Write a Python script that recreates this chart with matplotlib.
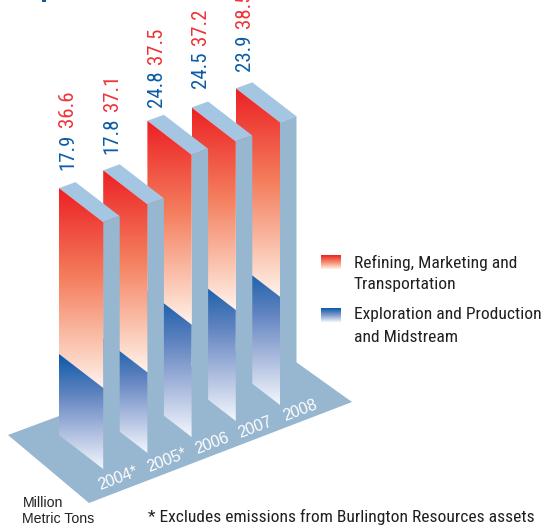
import numpy as np
import matplotlib
matplotlib.use('Agg')
import matplotlib.pyplot as plt
from matplotlib.colors import LinearSegmentedColormap
from matplotlib.patches import Polygon, Rectangle

plt.rcParams['font.family'] = ['Roboto Condensed', 'Archivo Narrow', 'Liberation Sans', 'DejaVu Sans']

years = ['2004*', '2005*', '2006', '2007', '2008']
exploration = [17.9, 17.8, 24.8, 24.5, 23.9]
refining = [36.6, 37.1, 37.5, 37.2, 38.5]

# drawing units are pixels, y pointing down
scale = 4.53
bar_w = 44.2
skew = 34.0
depth_x = 16.5
depth_y = 6.0
left0 = 59.0
base0 = 469.0
base_step = 16.0
label_gap = [18, 16, 14, 19, 17]
year_pos = [(118, 478), (167, 460), (212, 443), (255, 427), (300, 410)]

TOP = '#a5c6e2'
SIDE = '#97b6cf'
INK = '#231f20'
RED = '#ee3338'
BLUE = '#0b5ca8'

red_cmap = LinearSegmentedColormap.from_list(
    'red', [(0, '#ec2024'), (0.45, '#f47f5e'), (0.85, '#fcd3c2'), (1, '#fff3ed')])
blue_cmap = LinearSegmentedColormap.from_list(
    'blue', [(0, '#0a58a6'), (0.35, '#5f83c0'), (0.65, '#a6b7dc'), (1, '#f3f7fd')])

fig = plt.figure(figsize=(5.48, 5.25), dpi=100)
ax = fig.add_axes([0, 0, 1, 1])
ax.set_xlim(0, 548)
ax.set_ylim(525, 0)
ax.axis('off')

ramp = np.linspace(0, 1, 256).reshape(-1, 1)


def gradient_poly(pts, cmap, zorder):
    pts = np.array(pts)
    ymin, ymax = pts[:, 1].min(), pts[:, 1].max()
    xmin, xmax = pts[:, 0].min(), pts[:, 0].max()
    im = ax.imshow(ramp, cmap=cmap, extent=(xmin, xmax, ymax, ymin), aspect='auto',
                   vmin=0, vmax=1, zorder=zorder, origin='upper')
    patch = Polygon(pts, closed=True, transform=ax.transData, fc='none', ec='none')
    ax.add_patch(patch)
    im.set_clip_path(patch)


# floor
ax.add_patch(Polygon([(8, 435), (89, 503), (352, 402), (296, 362), (296, 328)],
                     closed=True, fc=SIDE, ec='none', zorder=1))

# back bar first so the nearer ones overlap it
for i in reversed(range(len(years))):
    z = 10 + (len(years) - i) * 3
    xl = left0 + i * bar_w
    xr = xl + bar_w
    br = base0 - i * base_step
    bl = br - skew
    split = exploration[i] * scale
    h = (exploration[i] + refining[i]) * scale

    ax.add_patch(Polygon([(xl, bl - h), (xr, br - h), (xr + depth_x, br - h - depth_y),
                          (xl + depth_x, bl - h - depth_y)],
                         closed=True, fc=TOP, ec='none', zorder=z))
    ax.add_patch(Polygon([(xr, br - h), (xr + depth_x, br - h - depth_y),
                          (xr + depth_x, br - depth_y), (xr, br)],
                         closed=True, fc=SIDE, ec='none', zorder=z))
    gradient_poly([(xl, bl - h), (xr, br - h), (xr, br - split), (xl, bl - split)], red_cmap, z + 1)
    gradient_poly([(xl, bl - split), (xr, br - split), (xr, br), (xl, bl)], blue_cmap, z + 1)

    cx = xl + 9
    top_y = bl - h
    ax.text(cx, top_y - label_gap[i], f'{exploration[i]:.1f}', color=BLUE, fontsize=15,
            rotation=90, ha='center', va='bottom', zorder=60)
    ax.text(cx, top_y - label_gap[i] - 43, f'{refining[i]:.1f}', color=RED, fontsize=15,
            rotation=90, ha='center', va='bottom', zorder=60)
    ax.text(year_pos[i][0], year_pos[i][1], years[i], color='white', fontsize=11.5,
            rotation=21, rotation_mode='anchor', ha='center', va='center', zorder=60,
            family=['Liberation Sans', 'DejaVu Sans'])

# sliver of a mark along the top edge
ax.add_patch(Rectangle((42, 0), 4, 1.5, fc=BLUE, ec='none', zorder=60))

# legend
ax.imshow(ramp, cmap=LinearSegmentedColormap.from_list('r', ['#ec2024', '#f58a6a', '#fff3ed']),
          extent=(321, 341, 269, 255), aspect='auto', zorder=5)
ax.imshow(ramp, cmap=LinearSegmentedColormap.from_list('b', ['#0a58a6', '#7f9bcd', '#f0f5fc']),
          extent=(321, 341, 322, 308), aspect='auto', zorder=5)
ax.set_xlim(0, 548)
ax.set_ylim(525, 0)
for y, s in [(263, 'Refining, Marketing and'), (285, 'Transportation'),
             (315, 'Exploration and Production'), (337, 'and Midstream')]:
    ax.text(354, y, s, color=INK, fontsize=12.6, ha='left', va='center')

ax.text(22.5, 503, 'Million', color=INK, fontsize=10.2, ha='left', va='center',
        family=['Liberation Sans', 'DejaVu Sans'])
ax.text(22.5, 519, 'Metric Tons', color=INK, fontsize=10.2, ha='left', va='center',
        family=['Liberation Sans', 'DejaVu Sans'])
ax.text(148, 516.5, '* Excludes emissions from Burlington Resources assets', color=INK,
        fontsize=12.6, ha='left', va='center')

fig.savefig('out.png', dpi=100)
